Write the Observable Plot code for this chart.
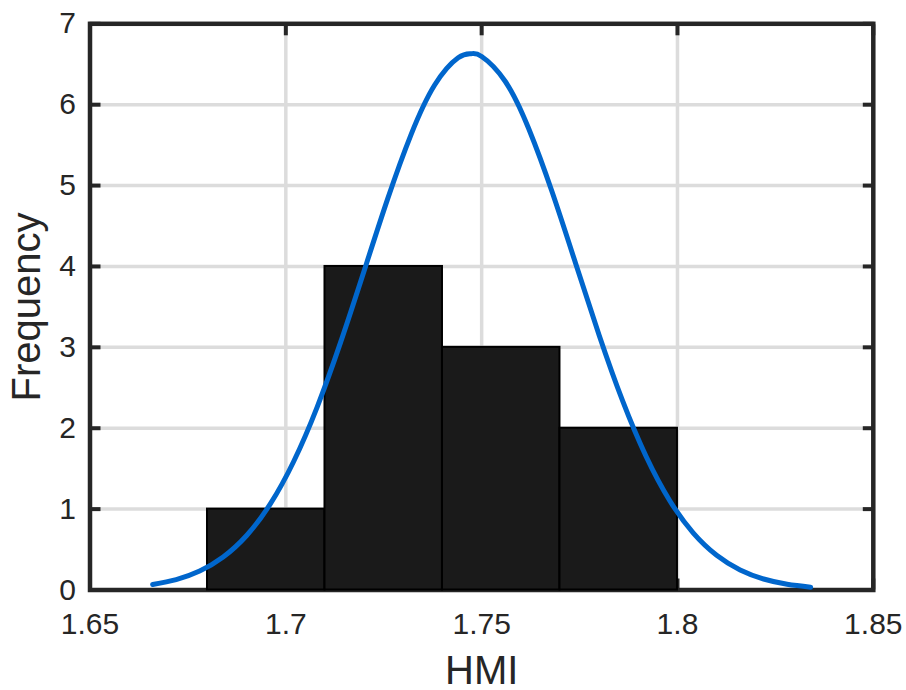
<!DOCTYPE html>
<html>
<head>
<meta charset="utf-8">
<script src="https://cdn.jsdelivr.net/npm/d3@7"></script>
<script src="https://cdn.jsdelivr.net/npm/@observablehq/plot@0.6"></script>
<style>
  html, body { margin: 0; padding: 0; background: #fff; }
  #chart { width: 906px; height: 690px; }
</style>
</head>
<body>
<div id="chart"></div>
<script>
// Histogram bins
const binStart = [1.68, 1.71, 1.74, 1.77];
const binEnd   = [1.71, 1.74, 1.77, 1.80];
const counts   = [1, 4, 3, 2];

// Fitted curve, points
const curveX = [1.666, 1.672, 1.678, 1.684, 1.690, 1.696, 1.702, 1.708, 1.714, 1.720,
                1.726, 1.732, 1.738, 1.744, 1.7473, 1.750, 1.756, 1.762, 1.768, 1.774,
                1.780, 1.786, 1.792, 1.798, 1.804, 1.810, 1.816, 1.822, 1.828, 1.834];
const curveY = [0.067, 0.128, 0.234, 0.408, 0.674, 1.061, 1.589, 2.262, 3.064, 3.947,
                4.835, 5.633, 6.243, 6.580, 6.630, 6.596, 6.290, 5.705, 4.920, 4.036,
                3.150, 2.337, 1.650, 1.107, 0.707, 0.430, 0.248, 0.136, 0.071, 0.035];

// Ticks
const xTicks = [1.65, 1.70, 1.75, 1.80, 1.85];
const xTickLabels = ["1.65", "1.7", "1.75", "1.8", "1.85"];
const yTicks = [0, 1, 2, 3, 4, 5, 6, 7];
const yTickLabels = ["0", "1", "2", "3", "4", "5", "6", "7"];
const xGrid = [1.70, 1.75, 1.80];
const yGrid = [1, 2, 3, 4, 5, 6];
const xLabel = "HMI";
const yLabel = "Frequency";

const bars = binStart.map((s, i) => ({x1: s, x2: binEnd[i], y: counts[i]}));
const curve = curveX.map((x, i) => ({x, y: curveY[i]}));

const axisColor = "#262626";
const tickFmtX = d => xTickLabels[xTicks.findIndex(t => Math.abs(t - d) < 1e-9)];
const tickFmtY = d => yTickLabels[yTicks.indexOf(d)];

const chart = Plot.plot({
  width: 906,
  height: 690,
  marginLeft: 89.5,
  marginRight: 33.2,
  marginTop: 23.3,
  marginBottom: 100.5,
  x: {domain: [1.65, 1.85]},
  y: {domain: [0, 7]},
  style: {fontFamily: "'Liberation Sans', Arial, Helvetica, sans-serif", color: axisColor, background: "#fff"},
  marks: [
    Plot.gridX(xGrid, {stroke: "#dcdcdc", strokeOpacity: 1, strokeWidth: 3.5}),
    Plot.gridY(yGrid, {stroke: "#dcdcdc", strokeOpacity: 1, strokeWidth: 3.5}),
    // inward ticks on all four sides
    Plot.axisX(xTicks, {anchor: "bottom", tickSize: -11, fill: "none", stroke: axisColor, strokeWidth: 4, label: null}),
    Plot.axisX(xTicks, {anchor: "top", tickSize: -11, fill: "none", stroke: axisColor, strokeWidth: 4, label: null}),
    Plot.axisY(yTicks, {anchor: "left", tickSize: -11, fill: "none", stroke: axisColor, strokeWidth: 4, label: null}),
    Plot.axisY(yTicks, {anchor: "right", tickSize: -11, fill: "none", stroke: axisColor, strokeWidth: 4, label: null}),
    Plot.frame({stroke: axisColor, strokeWidth: 4.5}),
    // tick labels and axis titles
    Plot.axisX(xTicks, {anchor: "bottom", tickSize: 0, tickPadding: 23, fontSize: 30, fill: axisColor, tickFormat: tickFmtX,
      label: xLabel, labelAnchor: "center", labelOffset: 93.5, labelArrow: "none"}),
    Plot.axisY(yTicks, {anchor: "left", tickSize: 0, tickPadding: 14, fontSize: 30, fill: axisColor, tickFormat: tickFmtY,
      label: yLabel, labelAnchor: "center", labelOffset: 78, labelArrow: "none"}),
    // histogram
    Plot.rectY(bars, {x1: "x1", x2: "x2", y: "y", fill: "#1a1a1a", stroke: "#000", strokeWidth: 2}),
    // fit curve
    Plot.line(curve, {x: "x", y: "y", stroke: "#0066cc", strokeWidth: 5, curve: "natural"})
  ]
});

// axis title size
chart.querySelectorAll("[aria-label='x-axis label'], [aria-label='y-axis label']").forEach(g => {
  g.setAttribute("font-size", "40");
  g.style.fontSize = "40px";
});

document.getElementById("chart").appendChild(chart);
</script>
</body>
</html>
